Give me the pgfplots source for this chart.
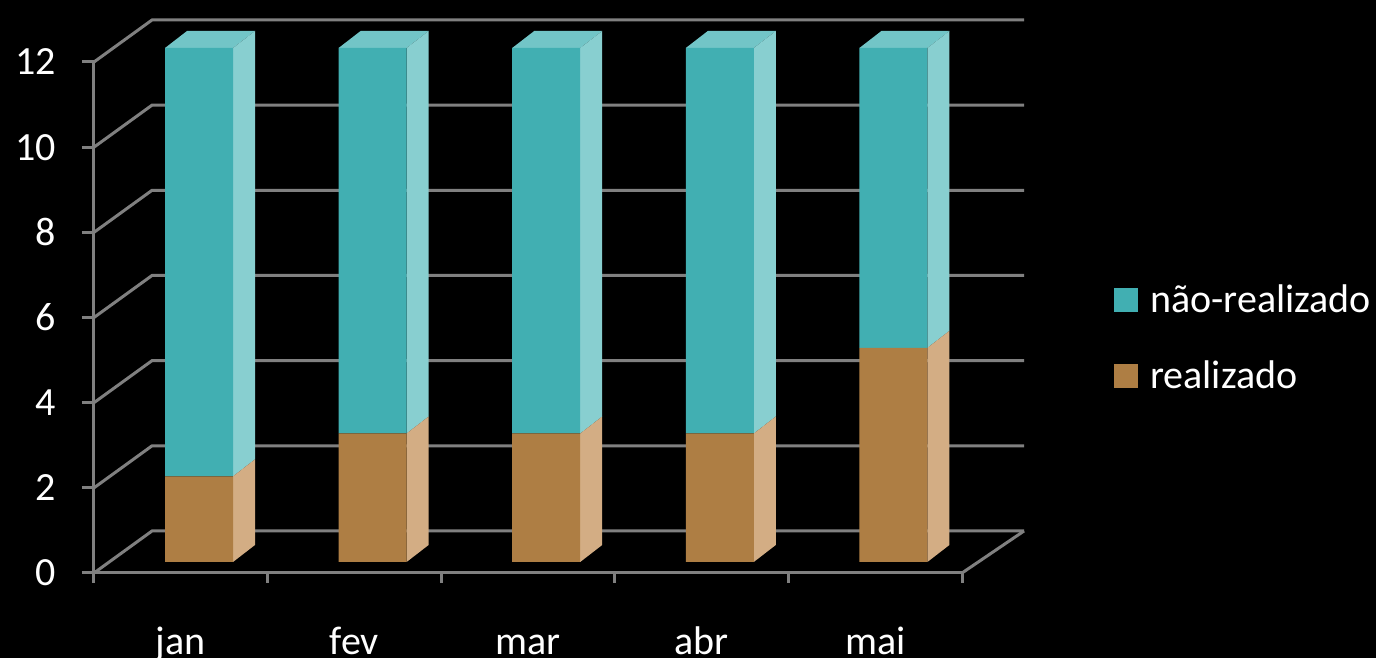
\documentclass[border=0pt]{standalone}
\usepackage{pgfplots}
\pgfplotsset{compat=1.18}
\usepackage{pgfplotstable}
\usepackage{fontspec}
\setmainfont{Carlito}

\definecolor{tealF}{HTML}{41AFB2}
\definecolor{tealS}{HTML}{88CFD0}
\definecolor{tealT}{HTML}{72C5C7}
\definecolor{brownF}{HTML}{AE7E44}
\definecolor{brownS}{HTML}{D3AD84}
\definecolor{gridgray}{HTML}{808080}

% month index, realizado, nao-realizado
\pgfplotstableread{
m r n
0 2 10
1 3 9
2 3 9
3 3 9
4 5 7
}\datatable

\newcommand{\lblfont}{\fontsize{20}{24}\selectfont}

\begin{document}
\begin{tikzpicture}
\path[use as bounding box, fill=black] (-47pt,-42.5pt) rectangle (641pt,286.5pt);

% frame: walls, floor, ticks, labels (front plane)
\begin{axis}[
    at={(0pt,0pt)}, anchor=south west,
    scale only axis, width=434pt, height=255.5pt,
    xmin=-0.5, xmax=4.5, ymin=0, ymax=12,
    clip=false,
    axis x line*=bottom, axis y line*=left,
    axis line style={draw=gridgray, line width=1.5pt, -},
    xtick={0,...,4},
    xticklabels={jan,fev,mar,abr,mai},
    minor xtick={-0.5,0.5,...,4.5},
    ytick={0,2,...,12},
    tick align=outside,
    major tick length=6pt, minor tick length=5pt,
    tick style={draw=gridgray, line width=1.5pt},
    major x tick style={draw=none},
    tick label style={font=\lblfont, text=white},
    /pgf/number format/assume math mode=true,
    yticklabel style={anchor=east, inner sep=0pt, xshift=-13pt},
    xticklabel style={anchor=base, inner sep=0pt, yshift=-34.5pt},
]
\pgfplotsinvokeforeach{0,2,...,12}{
  \draw[gridgray, line width=1.5pt]
    (axis cs:-0.5,#1) -- ([shift={(29pt,21pt)}]axis cs:-0.5,#1)
    -- ([shift={(31pt,21pt)}]axis cs:4.5,#1);
}
\draw[gridgray, line width=1.5pt] (axis cs:4.5,0) -- ([shift={(31pt,21pt)}]axis cs:4.5,0);
\end{axis}

% bars (bar plane)
\begin{axis}[
    at={(9.1pt,5.5pt)}, anchor=south west,
    scale only axis, width=434pt, height=257pt,
    xmin=-0.5, xmax=4.5, ymin=0, ymax=12,
    hide axis, clip=false,
    ybar stacked, bar width=34pt,
    reverse legend,
    legend cell align=left,
    legend image code/.code={\fill[#1] (0pt,-5pt) rectangle (12pt,7pt);},
    legend style={font=\lblfont, text=white, draw=none, fill=none,
        at={(1.147,0.431)}, anchor=west, row sep=20pt, column sep=6pt,
        nodes={inner sep=0pt, text height=14pt, text depth=4pt}},
]
\addplot[fill=brownF, draw=none] table[x=m, y=r] {\datatable};
\addlegendentry{realizado}
\addplot[fill=tealF, draw=none] table[x=m, y=n] {\datatable};
\addlegendentry{não-realizado}

% side and top faces of the 3D bars
\pgfplotsforeachungrouped \i in {0,...,4}{%
  \pgfplotstablegetelem{\i}{r}\of\datatable \let\vr\pgfplotsretval
  \pgfplotstablegetelem{\i}{n}\of\datatable \let\vn\pgfplotsretval
  \pgfmathsetmacro\vt{\vr+\vn}%
  \edef\temp{%
    \noexpand\fill[brownS] ([xshift=17pt]axis cs:\i,0) -- ([shift={(28pt,8.5pt)}]axis cs:\i,0)
      -- ([shift={(28pt,8.5pt)}]axis cs:\i,\vr) -- ([xshift=17pt]axis cs:\i,\vr) -- cycle;
    \noexpand\fill[tealS] ([xshift=17pt]axis cs:\i,\vr) -- ([shift={(28pt,8.5pt)}]axis cs:\i,\vr)
      -- ([shift={(28pt,8.5pt)}]axis cs:\i,\vt) -- ([xshift=17pt]axis cs:\i,\vt) -- cycle;
    \noexpand\fill[tealT] ([xshift=-17pt]axis cs:\i,\vt) -- ([shift={(-6pt,8.5pt)}]axis cs:\i,\vt)
      -- ([shift={(28pt,8.5pt)}]axis cs:\i,\vt) -- ([xshift=17pt]axis cs:\i,\vt) -- cycle;
  }\temp
}
\end{axis}
\end{tikzpicture}
\end{document}
